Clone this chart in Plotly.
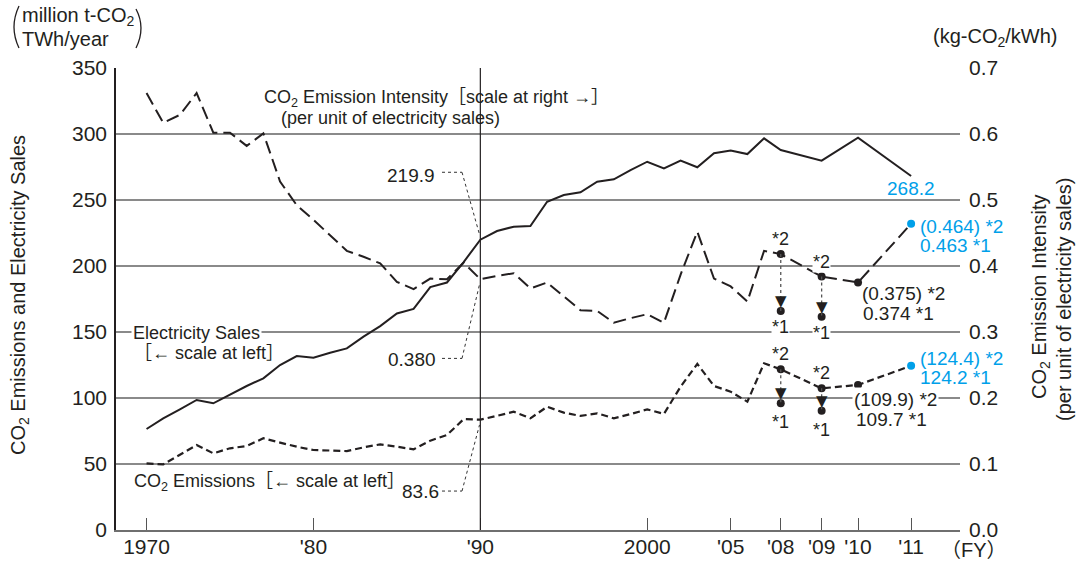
import numpy as np
import plotly.graph_objects as go

# ---------------- data ----------------
fiscal_years = list(range(1970, 2012))

electricity_sales = [  # TWh/year, left scale
    76.5, 84.6, 91.4, 98.5, 96.0, 102.8, 109.1, 114.9, 125.0, 131.8,
    130.5, 134.3, 137.6, 146.5, 154.5, 164.0, 167.5, 184.0, 187.5, 203.0,
    219.9, 226.5, 229.8, 230.3, 248.7, 253.8, 255.8, 263.9, 265.7, 272.7,
    279.0, 274.0, 279.8, 274.8, 285.4, 287.4, 284.8, 296.7, 287.9, 279.8,
    297.2, 268.2]

co2_intensity = [  # kg-CO2/kWh, right scale (values *2 for 2008-2011)
    0.662, 0.617, 0.629, 0.662, 0.602, 0.602, 0.582, 0.601, 0.528, 0.492,
    0.470, 0.446, 0.423, 0.414, 0.404, 0.376, 0.365, 0.381, 0.380, 0.405,
    0.380, 0.385, 0.389, 0.366, 0.375, 0.354, 0.333, 0.332, 0.314, 0.321,
    0.327, 0.314, 0.387, 0.452, 0.381, 0.369, 0.346, 0.423, 0.418, 0.384,
    0.375, 0.464]

co2_emissions = [  # million t-CO2, left scale (values *2 for 2008-2011)
    50.5, 49.7, 57.0, 64.4, 58.1, 61.9, 63.6, 69.5, 66.2, 63.1,
    60.6, 60.1, 59.8, 62.6, 64.9, 63.1, 61.1, 67.7, 72.0, 84.0,
    83.6, 86.5, 89.6, 84.6, 93.4, 88.9, 86.4, 88.4, 84.6, 87.8,
    91.4, 87.9, 108.6, 125.8, 109.1, 104.8, 97.2, 126.3, 121.7, 107.3,
    109.9, 124.4]

credit_years = [2008, 2009]
intensity_after_credit = [0.332, 0.323]   # *1
emissions_after_credit = [96.0, 90.4]     # *1

marked_years = [2008, 2009, 2010]
latest_year = 2011

tick_years = [1970, 1980, 1990, 2000, 2005, 2008, 2009, 2010, 2011]
tick_labels = ["1970", "'80", "'90", "2000", "'05", "'08", "'09", "'10", "'11"]

# ---------------- styling ----------------
FONT = "Liberation Sans, Arial, Noto Sans CJK JP, sans-serif"
INK = "#231f20"
CYAN = "#00a0e9"
GRID = "#8a8a8a"

# the original chart uses a broken (stretched) time scale after FY2008
SCALE_FY = [1970, 2008, 2009, 2010, 2011]
SCALE_POS = [1970, 2008, 2010.45, 2012.63, 2015.81]


def pos(fy):
    return np.interp(fy, SCALE_FY, SCALE_POS)


X_RANGE = [1968.17, 2018.74]
L, R, T, B = 116, 117, 68, 34
W, H = 1077, 564
PW, PH = W - L - R, H - T - B


def px_x(px):  # pixel -> x axis units (for free text placement)
    return X_RANGE[0] + (px - L) / PW * (X_RANGE[1] - X_RANGE[0])


def px_y(py):  # pixel -> left axis units
    return (H - B - py) / PH * 350


def pp_x(px):  # pixel -> paper
    return (px - L) / PW


def pp_y(py):
    return (H - B - py) / PH


def note(**kw):
    d = dict(showarrow=False, xanchor="center", yanchor="middle")
    d.update(kw)
    return d


xs = pos(fiscal_years)
idx = {y: i for i, y in enumerate(fiscal_years)}

fig = go.Figure()

fig.add_trace(go.Scatter(x=xs, y=electricity_sales, mode="lines",
                         line=dict(color=INK, width=2), yaxis="y",
                         hoverinfo="skip", showlegend=False))
fig.add_trace(go.Scatter(x=xs, y=co2_emissions, mode="lines",
                         line=dict(color=INK, width=2.2, dash="7px,4px"), yaxis="y",
                         hoverinfo="skip", showlegend=False))
fig.add_trace(go.Scatter(x=xs, y=co2_intensity, mode="lines",
                         line=dict(color=INK, width=2, dash="13px,6px"), yaxis="y2",
                         hoverinfo="skip", showlegend=False))

# black dots (*2 values and 2010)
fig.add_trace(go.Scatter(x=pos(marked_years), y=[co2_emissions[idx[y]] for y in marked_years],
                         mode="markers", marker=dict(color=INK, size=8), yaxis="y",
                         hoverinfo="skip", showlegend=False))
fig.add_trace(go.Scatter(x=pos(marked_years), y=[co2_intensity[idx[y]] for y in marked_years],
                         mode="markers", marker=dict(color=INK, size=8), yaxis="y2",
                         hoverinfo="skip", showlegend=False))
# *1 dots
fig.add_trace(go.Scatter(x=pos(credit_years), y=emissions_after_credit,
                         mode="markers", marker=dict(color=INK, size=8), yaxis="y",
                         hoverinfo="skip", showlegend=False))
fig.add_trace(go.Scatter(x=pos(credit_years), y=intensity_after_credit,
                         mode="markers", marker=dict(color=INK, size=8), yaxis="y2",
                         hoverinfo="skip", showlegend=False))
# cyan dots for latest year
fig.add_trace(go.Scatter(x=[pos(latest_year)], y=[co2_emissions[idx[latest_year]]],
                         mode="markers", marker=dict(color=CYAN, size=8), yaxis="y",
                         hoverinfo="skip", showlegend=False))
fig.add_trace(go.Scatter(x=[pos(latest_year)], y=[co2_intensity[idx[latest_year]]],
                         mode="markers", marker=dict(color=CYAN, size=8), yaxis="y2",
                         hoverinfo="skip", showlegend=False))

shapes = []
annotations = []

# vertical line at FY1990
shapes.append(dict(type="line", xref="x", yref="paper", x0=pos(1990), x1=pos(1990),
                   y0=0, y1=1, line=dict(color=INK, width=1.2)))

# dotted drops from *2 to *1 with down triangles
for k, y in enumerate(credit_years):
    for yref, v2, v1 in (("y", co2_emissions[idx[y]], emissions_after_credit[k]),
                         ("y2", co2_intensity[idx[y]], intensity_after_credit[k])):
        shapes.append(dict(type="line", xref="x", yref=yref, x0=pos(y), x1=pos(y),
                           y0=v2, y1=v1, line=dict(color="#555", width=1.3, dash="dot")))
        annotations.append(note(x=pos(y), y=v1, yref=yref, text="▼",
                                yshift=10, font=dict(size=15, color=INK, family="DejaVu Sans")))
        bg2 = "white" if (yref == "y2" and y == 2009) else "rgba(0,0,0,0)"
        bg1 = "white" if yref == "y2" else "rgba(0,0,0,0)"
        annotations.append(note(x=pos(y), y=v2, yref=yref, text="*2",
                                yshift=15, bgcolor=bg2, borderpad=0,
                                font=dict(size=18, color=INK)))
        annotations.append(note(x=pos(y), y=v1, yref=yref, text="*1",
                                yshift=-16 if yref == "y2" else -19, bgcolor=bg1, borderpad=0,
                                font=dict(size=18, color=INK)))

# dotted leaders for the FY1990 values
leader = dict(color="#333", width=1, dash="dot")
for (ty, ey, eref) in ((271.0, electricity_sales[idx[1990]] + 4, "y"),
                       (130.0, co2_intensity[idx[1990]] - 0.008, "y2"),
                       (29.5, co2_emissions[idx[1990]] - 4, "y")):
    shapes.append(dict(type="line", xref="x", yref="y", x0=px_x(442), x1=px_x(462),
                       y0=ty, y1=ty, line=leader))
    # diagonal part: from (462px, ty) to the FY1990 point
    shapes.append(dict(type="line", xref="x", yref="y", x0=px_x(462), x1=pos(1990) - 0.05,
                       y0=ty, y1=(ey if eref == "y" else ey / 0.7 * 350), line=leader))

annotations += [
    note(x=px_x(437), y=px_y(175), text=f"{electricity_sales[idx[1990]]:.1f}", xanchor="right",
         font=dict(size=19, color=INK)),
    note(x=px_x(438), y=px_y(359), text=f"{co2_intensity[idx[1990]]:.3f}", xanchor="right",
         font=dict(size=19, color=INK)),
    note(x=px_x(441), y=px_y(491), text=f"{co2_emissions[idx[1990]]:.1f}", xanchor="right",
         font=dict(size=19, color=INK)),
]

# series captions
annotations += [
    note(x=px_x(262), y=px_y(98), xanchor="left",
         text="CO<sub>2</sub> Emission Intensity［scale at right →］", font=dict(size=18, color=INK)),
    note(x=px_x(279), y=px_y(118), xanchor="left",
         text="(per unit of electricity sales)", font=dict(size=18, color=INK)),
    note(x=px_x(131), y=px_y(332.7), xanchor="left", bgcolor="white", borderpad=1,
         text="Electricity Sales", font=dict(size=18, color=INK)),
    note(x=px_x(132), y=px_y(353), xanchor="left",
         text="［← scale at left］", font=dict(size=18, color=INK)),
    note(x=px_x(132), y=px_y(482), xanchor="left",
         text="CO<sub>2</sub> Emissions［← scale at left］", font=dict(size=18, color=INK)),
]

# latest-year value labels
x11 = pos(latest_year)
x10 = pos(2010)
annotations += [
    note(x=x11, y=electricity_sales[idx[2011]], yref="y", text="268.2",
         yshift=-13, font=dict(size=19, color=CYAN)),
    note(x=x11, y=co2_intensity[idx[2011]], yref="y2", xanchor="left", xshift=7, yshift=-3,
         text="(0.464) *2", font=dict(size=19, color=CYAN)),
    note(x=x11, y=co2_intensity[idx[2011]], yref="y2", xanchor="left", xshift=7, yshift=-22,
         text="0.463 *1", font=dict(size=19, color=CYAN)),
    note(x=x11, y=co2_emissions[idx[2011]], yref="y", xanchor="left", xshift=7, yshift=7,
         text="(124.4) *2", font=dict(size=19, color=CYAN)),
    note(x=x11, y=co2_emissions[idx[2011]], yref="y", xanchor="left", xshift=7, yshift=-12,
         text="124.2 *1", font=dict(size=19, color=CYAN)),
    note(x=x10, y=co2_intensity[idx[2010]], yref="y2", xanchor="left", xshift=2, yshift=-11,
         text="(0.375) *2", font=dict(size=19, color=INK)),
    note(x=x10, y=co2_intensity[idx[2010]], yref="y2", xanchor="left", xshift=3, yshift=-31,
         text="0.374 *1", font=dict(size=19, color=INK)),
    note(x=x10, y=co2_emissions[idx[2010]], yref="y", xanchor="left", xshift=-6, yshift=-15,
         text="(109.9) *2", bgcolor="white", borderpad=1,
         font=dict(size=19, color=INK)),
    note(x=x10, y=co2_emissions[idx[2010]], yref="y", xanchor="left", xshift=-4, yshift=-35,
         text="109.7 *1", font=dict(size=19, color=INK)),
]

# axis titles and units
annotations += [
    note(xref="paper", yref="paper", x=pp_x(20), y=pp_y(17), xanchor="left",
         text="million t-CO<sub>2</sub>", font=dict(size=20, color=INK)),
    note(xref="paper", yref="paper", x=pp_x(20), y=pp_y(39), xanchor="left",
         text="TWh/year", font=dict(size=20, color=INK)),
    note(xref="paper", yref="paper", x=pp_x(995), y=pp_y(37),
         text="(kg-CO<sub>2</sub>/kWh)", font=dict(size=20, color=INK)),
    note(xref="paper", yref="paper", x=pp_x(19), y=pp_y(295), textangle=-90,
         text="CO<sub>2</sub> Emissions and Electricity Sales", font=dict(size=20, color=INK)),
    note(xref="paper", yref="paper", x=pp_x(1040), y=pp_y(297), textangle=-90,
         text="CO<sub>2</sub> Emission Intensity", font=dict(size=20, color=INK)),
    note(xref="paper", yref="paper", x=pp_x(1064), y=pp_y(300), textangle=-90,
         text="(per unit of electricity sales)", font=dict(size=20, color=INK)),
    note(xref="paper", yref="paper", x=pp_x(974), y=pp_y(550),
         text="（FY）", font=dict(size=20, color=INK)),
]

# large parentheses around the unit label
for path in ("M {a},{b} Q {c},{d} {e},{f}".format(a=pp_x(19), b=pp_y(6), c=pp_x(9), d=pp_y(27),
                                                  e=pp_x(19), f=pp_y(48)),
             "M {a},{b} Q {c},{d} {e},{f}".format(a=pp_x(136), b=pp_y(9), c=pp_x(146), d=pp_y(28),
                                                  e=pp_x(136), f=pp_y(48))):
    shapes.append(dict(type="path", xref="paper", yref="paper", path=path,
                       line=dict(color=INK, width=1.3)))

fig.update_layout(
    width=W, height=H,
    margin=dict(l=L, r=R, t=T, b=B, pad=0),
    paper_bgcolor="white", plot_bgcolor="white",
    font=dict(family=FONT, color=INK),
    showlegend=False,
    xaxis=dict(range=X_RANGE, tickvals=list(pos(tick_years)), ticktext=tick_labels,
               ticks="inside", ticklen=12, tickwidth=1.2, tickcolor="#555", automargin=False,
               showgrid=False, zeroline=False, showline=True, linecolor="#6f6f6f", linewidth=1.6,
               tickfont=dict(size=21, color=INK), ticklabelstandoff=-3),
    yaxis=dict(range=[0, 350], tickvals=list(range(0, 351, 50)), showgrid=True, automargin=False,
               gridcolor=GRID, gridwidth=1.6, zeroline=False, showline=True,
               linecolor=INK, linewidth=1.5, ticks="", tickfont=dict(size=21, color=INK),
               ticklabelstandoff=3),
    yaxis2=dict(range=[0, 0.7], overlaying="y", side="right", automargin=False,
                tickvals=[0, 0.1, 0.2, 0.3, 0.4, 0.5, 0.6, 0.7],
                ticktext=["0.0", "0.1", "0.2", "0.3", "0.4", "0.5", "0.6", "0.7"],
                showgrid=False, zeroline=False, showline=False, ticks="",
                tickfont=dict(size=21, color=INK), ticklabelstandoff=8),
    shapes=shapes,
    annotations=annotations,
)

fig.write_html("out.html", config={"displayModeBar": False},
               post_script="document.body.style.margin='0';document.body.style.overflow='hidden';")
